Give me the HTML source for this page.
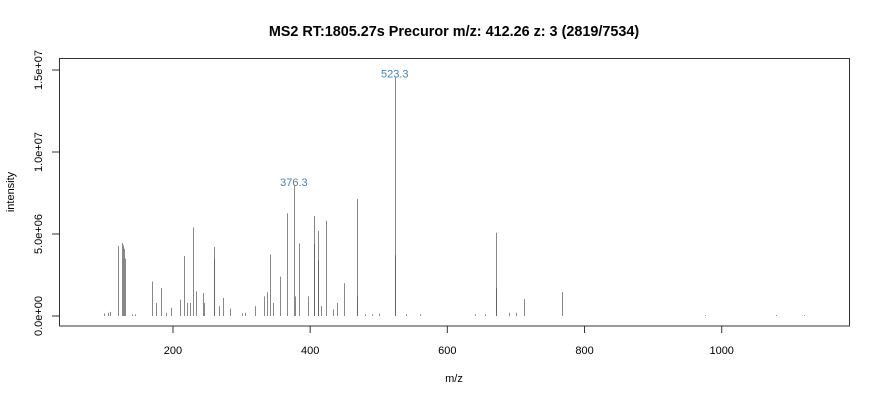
<!DOCTYPE html>
<html><head><meta charset="utf-8"><style>
html,body{margin:0;padding:0;background:#fff;}
svg{display:block;font-family:"Liberation Sans",sans-serif;}
</style></head><body>
<svg id="chart" width="880" height="400" viewBox="0 0 880 400">
<text x="454" y="36" text-anchor="middle" font-size="14.4" font-weight="bold" fill="#000">MS2 RT:1805.27s Precuror m/z: 412.26 z: 3 (2819/7534)</text>
<rect x="59.5" y="58.5" width="790" height="267.5" fill="none" stroke="#333" stroke-width="1"/>
<g id="xaxis"></g>
<g id="yaxis"></g>
<g id="peaks"></g>
<g id="labels"></g>
<text x="454" y="382" text-anchor="middle" font-size="11" fill="#000">m/z</text>
<text transform="translate(14,192) rotate(-90)" text-anchor="middle" font-size="11" fill="#000">intensity</text>
</svg>
<script>
const mzValues = [99.4,105,108,119.4,125.7,127.1,128.6,130.0,140,145,169.0,174.8,183.0,190,197.5,210.2,215.6,220.0,224.4,228.8,233.6,244.2,245.7,259.1,259.8,267.5,272.9,282.7,300,305,319.6,332.3,337.5,341.9,346.3,355.6,365.8,376.3,377.2,383.3,396.9,405.2,406.0,411.0,411.9,415.4,423.5,433.7,439.6,449.3,467.9,468.7,480,490,500,523.3,524.1,540,560,640,655,670.5,671.4,690,700,712.2,767.2,975.2,1078.7,1120];
const intensities = [0.15,0.2,0.25,4.27,4.45,4.3,4.1,3.5,0.1,0.1,2.1,0.8,1.7,0.2,0.5,1.0,3.66,0.8,0.8,5.4,1.5,1.4,0.8,3.5,4.2,0.6,1.1,0.45,0.15,0.2,0.6,1.2,1.45,3.75,0.8,2.4,6.26,8.0,1.2,4.43,1.2,6.1,4.4,5.2,3.4,0.6,5.8,0.4,0.8,2.0,7.13,1.2,0.1,0.1,0.15,14.6,3.7,0.1,0.1,0.1,0.1,5.08,1.7,0.2,0.2,1.04,1.46,0.05,0.05,0.05];
const labelMz = [376.3,523.3];
const labelInt = [8.0,14.6];
const xTicks = [200,400,600,800,1000];
const yTicks = [0,5,10,15];
const yTickLabels = ["0.0e+00","5.0e+06","1.0e+07","1.5e+07"];

const NS="http://www.w3.org/2000/svg";
function xs(mz){return 35.8+mz*0.6859;}
function ys(v){return 316-v*16.4;}
function mk(tag,attrs,parent){const e=document.createElementNS(NS,tag);for(const k in attrs)e.setAttribute(k,attrs[k]);parent.appendChild(e);return e;}

const xa=document.getElementById('xaxis');
mk('line',{x1:xs(200),x2:xs(1000),y1:326,y2:326,stroke:'#333'},xa);
xTicks.forEach(t=>{
  const l=mk('line',{x1:xs(t),x2:xs(t),y1:326,y2:333,stroke:'#333'},xa);
  
  
  const tx=mk('text',{x:xs(t),y:354,'text-anchor':'middle','font-size':'11',fill:'#000'},xa);
  tx.textContent=t;
  
  
});
const ya=document.getElementById('yaxis');
mk('line',{x1:59.5,x2:59.5,y1:ys(0),y2:ys(15),stroke:'#333'},ya);
yTicks.forEach((t,i)=>{
  const l=mk('line',{x1:52,x2:59.5,y1:ys(t),y2:ys(t),stroke:'#333'},ya);
  
  
  const tx=mk('text',{transform:`translate(42,${ys(t)}) rotate(-90)`,'text-anchor':'middle','font-size':'11',fill:'#000'},ya);
  tx.textContent=yTickLabels[i];
  
  
});
const pk=document.getElementById('peaks');
mzValues.forEach((m,i)=>{
  const x=Math.round(xs(m))+0.5;
  const l=mk('line',{x1:x,x2:x,y1:ys(0),y2:ys(intensities[i]),stroke:'#555','stroke-opacity':'0.7','stroke-width':'1'},pk);
  
  
});
const lb=document.getElementById('labels');
labelMz.forEach((m,i)=>{
  const t=mk('text',{x:xs(m),y:ys(labelInt[i])+1,'text-anchor':'middle','font-size':'11',fill:'#4682B4'},lb);
  t.textContent=m.toFixed(1);
  
  
});
</script>
</body></html>
